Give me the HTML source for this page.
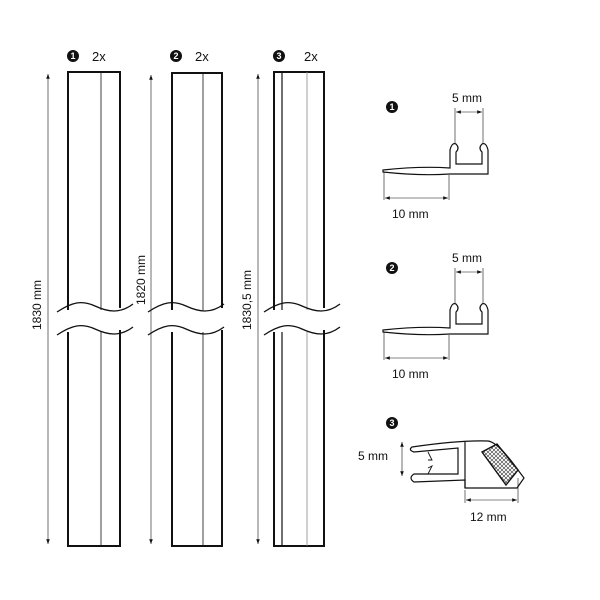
<!DOCTYPE html>
<html><head><style>body{margin:0;background:#fff}svg{display:block}text{font-family:"Liberation Sans",sans-serif;fill:#111}</style></head><body>
<svg width="600" height="600" viewBox="0 0 600 600" xmlns="http://www.w3.org/2000/svg">
<defs>
<marker id="a" markerWidth="8" markerHeight="6" refX="8" refY="3" orient="auto-start-reverse"><path d="M0,0 L8,3 L0,6 Z" fill="#111"/></marker>
<pattern id="h" width="4" height="4" patternUnits="userSpaceOnUse"><path d="M0,0 L4,4 M4,0 L0,4" stroke="#333" stroke-width="0.6"/></pattern>
</defs>
<g stroke="#111" fill="none">
<!-- bar 1 -->
<path d="M68,310 V72 H120 V308" stroke-width="2"/>
<path d="M68,332 V546 H120 V330" stroke-width="2"/>
<line x1="101" y1="72" x2="101" y2="310" stroke-width="0.8"/><line x1="101" y1="332" x2="101" y2="546" stroke-width="0.8"/>
<line x1="48" y1="74" x2="48" y2="544" stroke-width="0.6" marker-start="url(#a)" marker-end="url(#a)"/>
<path d="M57,312 C72,302 82,300 95,306 S120,314 133,304" stroke-width="1.3"/>
<path d="M57,335 C72,325 82,323 95,329 S120,337 133,327" stroke-width="1.3"/>
<!-- bar 2 -->
<path d="M172,310 V73 H222 V308" stroke-width="2"/>
<path d="M172,332 V546 H222 V330" stroke-width="2"/>
<line x1="203" y1="73" x2="203" y2="310" stroke-width="0.8"/><line x1="203" y1="332" x2="203" y2="546" stroke-width="0.8"/>
<line x1="151" y1="75" x2="151" y2="544" stroke-width="0.6" marker-start="url(#a)" marker-end="url(#a)"/>
<path d="M148,312 C163,302 173,300 186,306 S211,314 224,304" stroke-width="1.3"/>
<path d="M148,335 C163,325 173,323 186,329 S211,337 224,327" stroke-width="1.3"/>
<!-- bar 3 -->
<path d="M274,310 V72 H324 V308" stroke-width="2"/>
<path d="M274,332 V546 H324 V330" stroke-width="2"/>
<line x1="282" y1="72" x2="282" y2="310" stroke-width="1.2"/><line x1="282" y1="332" x2="282" y2="546" stroke-width="1.2"/>
<line x1="307" y1="72" x2="307" y2="310" stroke-width="0.8" stroke="#888"/><line x1="307" y1="332" x2="307" y2="546" stroke-width="0.8" stroke="#888"/>
<line x1="258" y1="74" x2="258" y2="544" stroke-width="0.6" marker-start="url(#a)" marker-end="url(#a)"/>
<path d="M264,312 C279,302 289,300 302,306 S327,314 340,304" stroke-width="1.3"/>
<path d="M264,335 C279,325 289,323 302,329 S327,337 340,327" stroke-width="1.3"/>
</g>
<g fill="#111">
<circle cx="73" cy="56" r="6"/><circle cx="176" cy="56" r="6"/><circle cx="279" cy="56" r="6"/>
<circle cx="392" cy="107" r="6"/><circle cx="392" cy="268" r="6"/><circle cx="392" cy="423" r="6"/>
</g>
<g font-size="9" font-weight="bold" text-anchor="middle" style="fill:#fff">
<text x="73" y="59" style="fill:#fff">1</text><text x="176" y="59" style="fill:#fff">2</text><text x="279" y="59" style="fill:#fff">3</text>
<text x="392" y="110" style="fill:#fff">1</text><text x="392" y="271" style="fill:#fff">2</text><text x="392" y="426" style="fill:#fff">3</text>
</g>
<g font-size="13">
<text x="92" y="61">2x</text><text x="195" y="61">2x</text><text x="304" y="61">2x</text>
</g>
<g font-size="12">
<text transform="translate(41,330) rotate(-90)">1830 mm</text>
<text transform="translate(145,305) rotate(-90)">1820 mm</text>
<text transform="translate(251,330) rotate(-90)">1830,5 mm</text>
<text x="452" y="102">5 mm</text><text x="392" y="218">10 mm</text>
<text x="452" y="262">5 mm</text><text x="392" y="378">10 mm</text>
<text x="358" y="460">5 mm</text><text x="470" y="521">12 mm</text>
</g>
<!-- section 1 & 2 -->
<g stroke="#111" fill="none" stroke-width="1.2">
<g id="s1">
<path d="M383,170 Q420,166 450,168 L450,150 Q452,142 456,144 Q460,148 456,152 L456,164 L482,164 L482,152 Q478,148 482,144 Q486,142 488,150 L488,174 L450,174 Q420,176 383,172 Z"/>
<line x1="455" y1="108" x2="455" y2="144" stroke-width="0.6"/><line x1="483" y1="108" x2="483" y2="144" stroke-width="0.6"/>
<line x1="456" y1="112" x2="482" y2="112" stroke-width="0.6" marker-start="url(#a)" marker-end="url(#a)"/>
<line x1="384" y1="172" x2="384" y2="200" stroke-width="0.6"/><line x1="449" y1="175" x2="449" y2="200" stroke-width="0.6"/>
<line x1="385" y1="198" x2="448" y2="198" stroke-width="0.6" marker-start="url(#a)" marker-end="url(#a)"/>
</g>
<use href="#s1" transform="translate(0,160)"/>
<!-- section 3 -->
<path d="M412,447 Q460,440 488,441 Q498,442 518,470 L524,478 L517,488 L465,488 L465,480 L414,482 Q408,478 414,474 L458,474 L458,448 L414,452 Q408,450 412,447 Z"/>
<line x1="465" y1="442" x2="465" y2="488"/>
<path d="M428,452 L432,460 L428,460 M428,474 L432,466 L428,468" stroke-width="0.9"/>
<path d="M482,452 L497,444 L518,470 L506,485 Z" fill="url(#h)" stroke-width="1.4"/>
<line x1="402" y1="442" x2="402" y2="476" stroke-width="0.6" marker-start="url(#a)" marker-end="url(#a)"/>
<line x1="465" y1="490" x2="465" y2="503" stroke-width="0.6"/><line x1="518" y1="478" x2="518" y2="503" stroke-width="0.6"/>
<line x1="466" y1="500" x2="517" y2="500" stroke-width="0.6" marker-start="url(#a)" marker-end="url(#a)"/>
</g>
</svg>
</body></html>
